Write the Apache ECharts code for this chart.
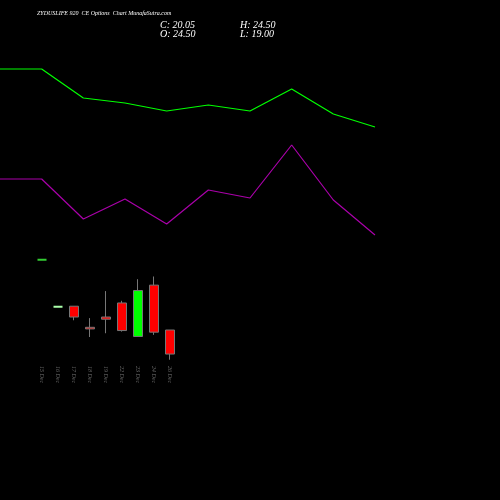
<!DOCTYPE html><html><head><meta charset="utf-8"><script src="https://cdn.jsdelivr.net/npm/echarts@6/dist/echarts.min.js"></script></head><body style="margin:0;background:#000"><div id="c" style="width:500px;height:500px"></div><script>
var dates=['15 Dec','16 Dec','17 Dec','18 Dec','19 Dec','22 Dec','23 Dec','24 Dec','26 Dec'];
// [open, close, low, high]
var candles=[[37.5,37.5,37.5,37.5],[28.8,28.8,28.8,28.8],[28.9,26.9,26.3,28.9],[25.0,24.7,23.2,26.7],[26.9,26.5,23.9,31.7],[29.5,24.4,24.2,29.9],[23.3,31.8,23.3,33.9],[32.8,24.1,23.6,34.4],[24.5,20.05,19.0,24.5]];
var upperLine=[431,431,402,397,389,395,389,411,386,373];
var lowerLine=[321,321,281,301,276,310,302,355,300,265];
var lineX=['','1','2','3','4','5','6','7','8','9'];
var chart=echarts.init(document.getElementById('c'));
var items=candles.map(function(c,i){
 var flat=c[1]==c[0];
 var col=c[1]>c[0]?'#00ff00':(c[1]<c[0]?'#ff0000':(i==0?'#33cc33':'#aaffaa'));
 var bc=flat?col:'#777';
 return {value:c,itemStyle:{color:col,color0:col,borderColor:bc,borderColor0:bc,borderWidth:flat?2:1}};
});
chart.setOption({backgroundColor:'#000',animation:false,
graphic:[
{type:'text',left:37,top:10,style:{text:'ZYDUSLIFE 920  CE Options  Chart MunafaSutra.com',fill:'#fff',font:'italic 6px serif'}},
{type:'text',left:160,top:20,style:{text:'C: 20.05',fill:'#fff',font:'italic 10px serif'}},
{type:'text',left:240,top:20,style:{text:'H: 24.50',fill:'#fff',font:'italic 10px serif'}},
{type:'text',left:160,top:29,style:{text:'O: 24.50',fill:'#fff',font:'italic 10px serif'}},
{type:'text',left:240,top:29,style:{text:'L: 19.00',fill:'#fff',font:'italic 10px serif'}}
],
grid:[{left:34,right:322,top:0,bottom:138},{left:0,right:125,top:0,bottom:0}],
xAxis:[{type:'category',data:dates,gridIndex:0,axisLine:{show:false},axisTick:{show:false},axisLabel:{rotate:-90,color:'#666',fontSize:6,fontStyle:'italic',fontFamily:'serif',margin:4}},
{type:'category',data:lineX,gridIndex:1,boundaryGap:false,show:false}],
yAxis:[{type:'value',gridIndex:0,min:18.58,max:85.55,show:false,splitLine:{show:false}},
{type:'value',gridIndex:1,min:0,max:500,show:false,splitLine:{show:false}}],
series:[
{type:'candlestick',xAxisIndex:0,yAxisIndex:0,barWidth:9,data:items},
{type:'line',xAxisIndex:1,yAxisIndex:1,data:upperLine,symbol:'none',lineStyle:{color:'#00ff00',width:1.2}},
{type:'line',xAxisIndex:1,yAxisIndex:1,data:lowerLine,symbol:'none',lineStyle:{color:'#aa00aa',width:1.2}}
]});
</script></body></html>
